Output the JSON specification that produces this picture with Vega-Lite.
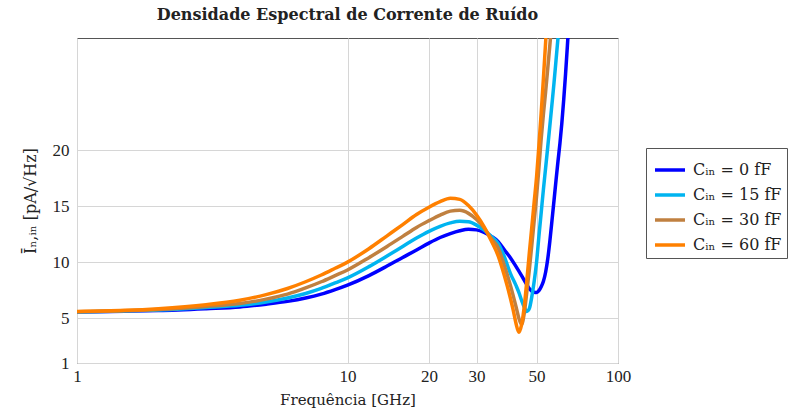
{
  "$schema": "https://vega.github.io/schema/vega-lite/v6.json",
  "width": 541,
  "height": 325,
  "autosize": {"type": "none"},
  "padding": {"left": 77, "top": 38, "right": 180, "bottom": 54},
  "background": "white",
  "config": {
    "view": {"stroke": "#555555", "strokeWidth": 1},
    "font": "DejaVu Serif",
    "axis": {"labelFont": "Liberation Serif", "titleFont": "DejaVu Serif", "labelColor": "#222", "titleColor": "#222", "titleFontWeight": "normal", "gridColor": "#d6d6d6", "gridWidth": 1, "domain": false, "ticks": false, "labelFontSize": 17, "titleFontSize": 15}
  },
  "title": {"text": "Densidade Espectral de Corrente de Ruído", "font": "DejaVu Serif", "fontSize": 16, "fontWeight": "bold", "color": "#222", "offset": 15, "anchor": "middle"},
  "data": {"values": [
    {"f":1,"v":5.55,"c":"Cᵢₙ = 0 fF"},{"f":1.5,"v":5.62,"c":"Cᵢₙ = 0 fF"},{"f":2,"v":5.68,"c":"Cᵢₙ = 0 fF"},{"f":3,"v":5.85,"c":"Cᵢₙ = 0 fF"},{"f":4,"v":6.0,"c":"Cᵢₙ = 0 fF"},{"f":5,"v":6.25,"c":"Cᵢₙ = 0 fF"},{"f":6,"v":6.5,"c":"Cᵢₙ = 0 fF"},{"f":7,"v":6.8,"c":"Cᵢₙ = 0 fF"},{"f":8,"v":7.15,"c":"Cᵢₙ = 0 fF"},{"f":9,"v":7.55,"c":"Cᵢₙ = 0 fF"},{"f":10,"v":7.95,"c":"Cᵢₙ = 0 fF"},{"f":12,"v":8.8,"c":"Cᵢₙ = 0 fF"},{"f":14,"v":9.65,"c":"Cᵢₙ = 0 fF"},{"f":16,"v":10.42,"c":"Cᵢₙ = 0 fF"},{"f":18,"v":11.08,"c":"Cᵢₙ = 0 fF"},{"f":20,"v":11.7,"c":"Cᵢₙ = 0 fF"},{"f":22,"v":12.2,"c":"Cᵢₙ = 0 fF"},{"f":24,"v":12.55,"c":"Cᵢₙ = 0 fF"},{"f":26,"v":12.8,"c":"Cᵢₙ = 0 fF"},{"f":28,"v":12.93,"c":"Cᵢₙ = 0 fF"},{"f":30,"v":12.88,"c":"Cᵢₙ = 0 fF"},{"f":32,"v":12.65,"c":"Cᵢₙ = 0 fF"},{"f":34,"v":12.3,"c":"Cᵢₙ = 0 fF"},{"f":36,"v":11.85,"c":"Cᵢₙ = 0 fF"},{"f":38,"v":11.1,"c":"Cᵢₙ = 0 fF"},{"f":40,"v":10.4,"c":"Cᵢₙ = 0 fF"},{"f":42,"v":9.6,"c":"Cᵢₙ = 0 fF"},{"f":44,"v":8.8,"c":"Cᵢₙ = 0 fF"},{"f":46,"v":8.0,"c":"Cᵢₙ = 0 fF"},{"f":47,"v":7.65,"c":"Cᵢₙ = 0 fF"},{"f":48,"v":7.42,"c":"Cᵢₙ = 0 fF"},{"f":49,"v":7.32,"c":"Cᵢₙ = 0 fF"},{"f":50,"v":7.3,"c":"Cᵢₙ = 0 fF"},{"f":51,"v":7.45,"c":"Cᵢₙ = 0 fF"},{"f":52,"v":7.8,"c":"Cᵢₙ = 0 fF"},{"f":53,"v":8.3,"c":"Cᵢₙ = 0 fF"},{"f":54,"v":9.1,"c":"Cᵢₙ = 0 fF"},{"f":55,"v":10.3,"c":"Cᵢₙ = 0 fF"},{"f":56,"v":11.9,"c":"Cᵢₙ = 0 fF"},{"f":57,"v":13.7,"c":"Cᵢₙ = 0 fF"},{"f":58,"v":15.5,"c":"Cᵢₙ = 0 fF"},{"f":59,"v":17.3,"c":"Cᵢₙ = 0 fF"},{"f":60,"v":19.0,"c":"Cᵢₙ = 0 fF"},{"f":61,"v":20.6,"c":"Cᵢₙ = 0 fF"},{"f":62,"v":22.4,"c":"Cᵢₙ = 0 fF"},{"f":63,"v":24.5,"c":"Cᵢₙ = 0 fF"},{"f":64,"v":26.8,"c":"Cᵢₙ = 0 fF"},{"f":65,"v":29.3,"c":"Cᵢₙ = 0 fF"},{"f":66,"v":31.9,"c":"Cᵢₙ = 0 fF"},
    {"f":1,"v":5.56,"c":"Cᵢₙ = 15 fF"},{"f":1.5,"v":5.64,"c":"Cᵢₙ = 15 fF"},{"f":2,"v":5.72,"c":"Cᵢₙ = 15 fF"},{"f":3,"v":5.95,"c":"Cᵢₙ = 15 fF"},{"f":4,"v":6.15,"c":"Cᵢₙ = 15 fF"},{"f":5,"v":6.45,"c":"Cᵢₙ = 15 fF"},{"f":6,"v":6.8,"c":"Cᵢₙ = 15 fF"},{"f":7,"v":7.2,"c":"Cᵢₙ = 15 fF"},{"f":8,"v":7.65,"c":"Cᵢₙ = 15 fF"},{"f":9,"v":8.15,"c":"Cᵢₙ = 15 fF"},{"f":10,"v":8.6,"c":"Cᵢₙ = 15 fF"},{"f":12,"v":9.6,"c":"Cᵢₙ = 15 fF"},{"f":14,"v":10.55,"c":"Cᵢₙ = 15 fF"},{"f":16,"v":11.4,"c":"Cᵢₙ = 15 fF"},{"f":18,"v":12.15,"c":"Cᵢₙ = 15 fF"},{"f":20,"v":12.75,"c":"Cᵢₙ = 15 fF"},{"f":22,"v":13.2,"c":"Cᵢₙ = 15 fF"},{"f":24,"v":13.5,"c":"Cᵢₙ = 15 fF"},{"f":26,"v":13.65,"c":"Cᵢₙ = 15 fF"},{"f":28,"v":13.6,"c":"Cᵢₙ = 15 fF"},{"f":30,"v":13.3,"c":"Cᵢₙ = 15 fF"},{"f":32,"v":12.85,"c":"Cᵢₙ = 15 fF"},{"f":34,"v":12.3,"c":"Cᵢₙ = 15 fF"},{"f":36,"v":11.7,"c":"Cᵢₙ = 15 fF"},{"f":38,"v":10.5,"c":"Cᵢₙ = 15 fF"},{"f":40,"v":9.0,"c":"Cᵢₙ = 15 fF"},{"f":42,"v":7.9,"c":"Cᵢₙ = 15 fF"},{"f":43,"v":7.3,"c":"Cᵢₙ = 15 fF"},{"f":44,"v":6.6,"c":"Cᵢₙ = 15 fF"},{"f":45,"v":6.0,"c":"Cᵢₙ = 15 fF"},{"f":46,"v":5.6,"c":"Cᵢₙ = 15 fF"},{"f":47,"v":5.85,"c":"Cᵢₙ = 15 fF"},{"f":48,"v":6.9,"c":"Cᵢₙ = 15 fF"},{"f":49,"v":8.3,"c":"Cᵢₙ = 15 fF"},{"f":50,"v":10.0,"c":"Cᵢₙ = 15 fF"},{"f":51,"v":12.3,"c":"Cᵢₙ = 15 fF"},{"f":52,"v":14.4,"c":"Cᵢₙ = 15 fF"},{"f":53,"v":16.5,"c":"Cᵢₙ = 15 fF"},{"f":54,"v":18.4,"c":"Cᵢₙ = 15 fF"},{"f":55,"v":20.3,"c":"Cᵢₙ = 15 fF"},{"f":56,"v":22.2,"c":"Cᵢₙ = 15 fF"},{"f":57,"v":24.1,"c":"Cᵢₙ = 15 fF"},{"f":58,"v":26.0,"c":"Cᵢₙ = 15 fF"},{"f":59,"v":28.0,"c":"Cᵢₙ = 15 fF"},{"f":60,"v":30.0,"c":"Cᵢₙ = 15 fF"},{"f":61,"v":32.0,"c":"Cᵢₙ = 15 fF"},
    {"f":1,"v":5.58,"c":"Cᵢₙ = 30 fF"},{"f":1.5,"v":5.66,"c":"Cᵢₙ = 30 fF"},{"f":2,"v":5.78,"c":"Cᵢₙ = 30 fF"},{"f":3,"v":6.05,"c":"Cᵢₙ = 30 fF"},{"f":4,"v":6.3,"c":"Cᵢₙ = 30 fF"},{"f":5,"v":6.7,"c":"Cᵢₙ = 30 fF"},{"f":6,"v":7.15,"c":"Cᵢₙ = 30 fF"},{"f":7,"v":7.7,"c":"Cᵢₙ = 30 fF"},{"f":8,"v":8.25,"c":"Cᵢₙ = 30 fF"},{"f":9,"v":8.8,"c":"Cᵢₙ = 30 fF"},{"f":10,"v":9.3,"c":"Cᵢₙ = 30 fF"},{"f":12,"v":10.4,"c":"Cᵢₙ = 30 fF"},{"f":14,"v":11.4,"c":"Cᵢₙ = 30 fF"},{"f":16,"v":12.3,"c":"Cᵢₙ = 30 fF"},{"f":18,"v":13.1,"c":"Cᵢₙ = 30 fF"},{"f":20,"v":13.7,"c":"Cᵢₙ = 30 fF"},{"f":22,"v":14.2,"c":"Cᵢₙ = 30 fF"},{"f":24,"v":14.55,"c":"Cᵢₙ = 30 fF"},{"f":26,"v":14.62,"c":"Cᵢₙ = 30 fF"},{"f":28,"v":14.35,"c":"Cᵢₙ = 30 fF"},{"f":30,"v":13.8,"c":"Cᵢₙ = 30 fF"},{"f":32,"v":13.05,"c":"Cᵢₙ = 30 fF"},{"f":34,"v":12.1,"c":"Cᵢₙ = 30 fF"},{"f":36,"v":11.3,"c":"Cᵢₙ = 30 fF"},{"f":38,"v":9.7,"c":"Cᵢₙ = 30 fF"},{"f":40,"v":7.95,"c":"Cᵢₙ = 30 fF"},{"f":42,"v":6.0,"c":"Cᵢₙ = 30 fF"},{"f":43,"v":5.0,"c":"Cᵢₙ = 30 fF"},{"f":44,"v":4.45,"c":"Cᵢₙ = 30 fF"},{"f":45,"v":5.4,"c":"Cᵢₙ = 30 fF"},{"f":46,"v":7.3,"c":"Cᵢₙ = 30 fF"},{"f":47,"v":9.3,"c":"Cᵢₙ = 30 fF"},{"f":48,"v":11.5,"c":"Cᵢₙ = 30 fF"},{"f":49,"v":13.7,"c":"Cᵢₙ = 30 fF"},{"f":50,"v":15.9,"c":"Cᵢₙ = 30 fF"},{"f":51,"v":18.4,"c":"Cᵢₙ = 30 fF"},{"f":52,"v":21.0,"c":"Cᵢₙ = 30 fF"},{"f":53,"v":23.2,"c":"Cᵢₙ = 30 fF"},{"f":54,"v":25.2,"c":"Cᵢₙ = 30 fF"},{"f":55,"v":27.3,"c":"Cᵢₙ = 30 fF"},{"f":56,"v":29.4,"c":"Cᵢₙ = 30 fF"},{"f":57,"v":31.5,"c":"Cᵢₙ = 30 fF"},
    {"f":1,"v":5.6,"c":"Cᵢₙ = 60 fF"},{"f":1.5,"v":5.7,"c":"Cᵢₙ = 60 fF"},{"f":2,"v":5.85,"c":"Cᵢₙ = 60 fF"},{"f":3,"v":6.2,"c":"Cᵢₙ = 60 fF"},{"f":4,"v":6.6,"c":"Cᵢₙ = 60 fF"},{"f":5,"v":7.1,"c":"Cᵢₙ = 60 fF"},{"f":6,"v":7.65,"c":"Cᵢₙ = 60 fF"},{"f":7,"v":8.25,"c":"Cᵢₙ = 60 fF"},{"f":8,"v":8.85,"c":"Cᵢₙ = 60 fF"},{"f":9,"v":9.45,"c":"Cᵢₙ = 60 fF"},{"f":10,"v":10.0,"c":"Cᵢₙ = 60 fF"},{"f":12,"v":11.2,"c":"Cᵢₙ = 60 fF"},{"f":14,"v":12.35,"c":"Cᵢₙ = 60 fF"},{"f":16,"v":13.35,"c":"Cᵢₙ = 60 fF"},{"f":18,"v":14.25,"c":"Cᵢₙ = 60 fF"},{"f":20,"v":14.9,"c":"Cᵢₙ = 60 fF"},{"f":22,"v":15.4,"c":"Cᵢₙ = 60 fF"},{"f":24,"v":15.7,"c":"Cᵢₙ = 60 fF"},{"f":26,"v":15.6,"c":"Cᵢₙ = 60 fF"},{"f":28,"v":15.05,"c":"Cᵢₙ = 60 fF"},{"f":30,"v":14.2,"c":"Cᵢₙ = 60 fF"},{"f":32,"v":13.15,"c":"Cᵢₙ = 60 fF"},{"f":34,"v":11.9,"c":"Cᵢₙ = 60 fF"},{"f":36,"v":10.6,"c":"Cᵢₙ = 60 fF"},{"f":38,"v":8.8,"c":"Cᵢₙ = 60 fF"},{"f":40,"v":6.8,"c":"Cᵢₙ = 60 fF"},{"f":41,"v":5.7,"c":"Cᵢₙ = 60 fF"},{"f":42,"v":4.5,"c":"Cᵢₙ = 60 fF"},{"f":43,"v":3.75,"c":"Cᵢₙ = 60 fF"},{"f":44,"v":4.4,"c":"Cᵢₙ = 60 fF"},{"f":45,"v":6.0,"c":"Cᵢₙ = 60 fF"},{"f":46,"v":8.3,"c":"Cᵢₙ = 60 fF"},{"f":47,"v":10.8,"c":"Cᵢₙ = 60 fF"},{"f":48,"v":13.1,"c":"Cᵢₙ = 60 fF"},{"f":49,"v":15.4,"c":"Cᵢₙ = 60 fF"},{"f":50,"v":17.6,"c":"Cᵢₙ = 60 fF"},{"f":51,"v":20.4,"c":"Cᵢₙ = 60 fF"},{"f":52,"v":23.3,"c":"Cᵢₙ = 60 fF"},{"f":53,"v":26.4,"c":"Cᵢₙ = 60 fF"},{"f":54,"v":29.6,"c":"Cᵢₙ = 60 fF"},{"f":55,"v":33,"c":"Cᵢₙ = 60 fF"}
  ]},
  "mark": {"type": "line", "strokeWidth": 3.5, "clip": true, "interpolate": "monotone"},
  "encoding": {
    "x": {"field": "f", "type": "quantitative", "scale": {"type": "log", "domain": [1, 100], "nice": false},
      "axis": {"values": [1, 10, 20, 30, 50, 100], "title": "Frequência [GHz]", "labelPadding": 5, "titlePadding": 8, "labelFlush": false}},
    "y": {"field": "v", "type": "quantitative", "scale": {"domain": [1, 30], "nice": false, "zero": false},
      "axis": {"values": [1, 5, 10, 15, 20], "title": "Īₙ,ᵢₙ [pA/√Hz]", "titleFontSize": 16, "labelPadding": 8, "titlePadding": 14, "labelFlush": false}},
    "color": {"field": "c", "type": "nominal",
      "scale": {"domain": ["Cᵢₙ = 0 fF", "Cᵢₙ = 15 fF", "Cᵢₙ = 30 fF", "Cᵢₙ = 60 fF"], "range": ["#0000ff", "#00b4f0", "#c08040", "#ff8000"]},
      "legend": {"title": null, "orient": "none", "legendX": 569, "legendY": 110, "symbolType": "stroke", "symbolSize": 900, "symbolStrokeWidth": 3.5, "symbolOffset": 2, "labelFont": "DejaVu Serif", "labelFontSize": 16, "labelColor": "#222", "strokeColor": "#555555", "fillColor": "white", "padding": 5, "rowPadding": -8, "labelOffset": 6}
    },
    "detail": {"field": "c"}
  }
}
